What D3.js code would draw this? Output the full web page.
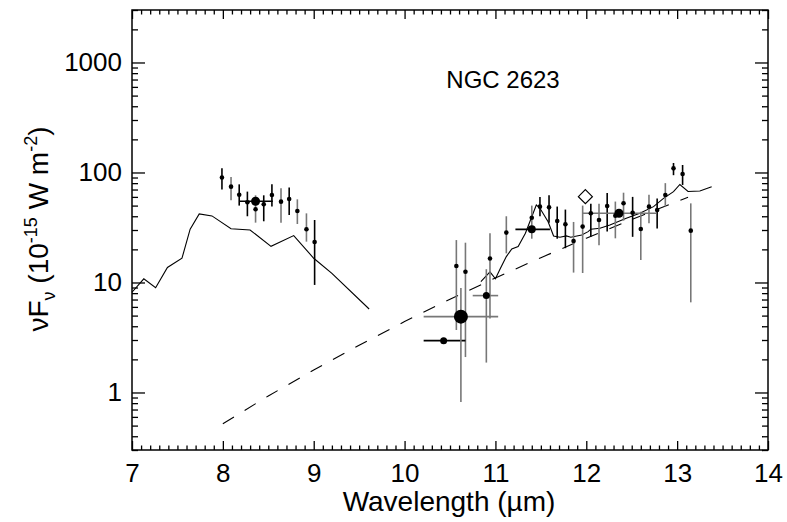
<!DOCTYPE html>
<html><head><meta charset="utf-8">
<script src="https://cdn.jsdelivr.net/npm/d3@7"></script>
<style>
body{margin:0;background:#fff;}
text{font-family:"Liberation Sans",Arial,Helvetica,sans-serif;fill:#000;}
</style></head>
<body><svg id="c" width="787" height="522"></svg>
<script>
// ---- data ----
const title = "NGC 2623";
const xTicks = [7, 8, 9, 10, 11, 12, 13, 14];
const yTicks = [1, 10, 100, 1000];
const yTickLabels = ["1", "10", "100", "1000"];

// model spectrum, short-wavelength piece [wavelength µm, flux]
const modelLeft = [[7.0,8.15],[7.13,10.8],[7.26,8.97],[7.39,13.7],[7.55,16.6],[7.64,30.5],[7.74,42],[7.88,40.3],
  [8.09,30.8],[8.30,30],[8.53,21.3],[8.78,26.7],[9.0,16.6],[9.2,12.1],[9.61,5.74]];
// model spectrum, long-wavelength piece
const modelRight = [[10.84,10.2],[10.94,12.5],[11.0,10.8],[11.05,13.2],[11.12,17.2],[11.18,20.2],[11.25,21.2],[11.33,28],
  [11.40,39.6],[11.45,50.7],[11.49,47.3],[11.58,35.7],[11.64,26.5],[11.71,25.8],[11.78,26.5],[11.83,25.8],[11.95,27],
  [12.02,29],[12.05,30.5],[12.15,31.1],[12.26,33.3],[12.44,38.4],[12.59,42.6],[12.74,48.9],[12.85,58.2],[12.96,66.9],
  [13.03,77.8],[13.12,67.2],[13.25,67.9],[13.38,74.3]];
// continuum (dashed)
const continuum = [[8.0,0.52],[8.5,0.93],[9.0,1.6],[9.5,2.69],[10.0,4.41],[10.5,7.04],[11.0,11.0],[11.5,16.8],
  [12.0,25.3],[12.5,37.4],[13.0,54.5],[13.12,59.5]];

// spectral points, set A [wavelength, flux, low, high]
const spectrumA = [[7.99,90,70,109],[8.18,62.8,50,78],[8.27,53.6,40,67],[8.45,51.4,36,62],[8.54,62.4,49,78],
  [8.73,57.4,41,73],[9.01,23.3,9.5,37],[11.49,48.9,40,60],[11.59,48.2,35,62],[11.68,36.2,25,49],[11.77,33.8,20.5,46],
  [12.05,42.6,26,52],[12.23,49.6,29,65],[12.51,43.1,26,60],[12.78,45.6,31,58],[12.96,109,94.5,122],[13.06,97,77,117]];
// spectral points, set B
const spectrumB = [[8.09,74.3,56,91],[8.36,46.3,35,62],[8.64,54.3,35,72],[8.82,44.7,34,57],[8.92,30.5,23.5,42.5],
  [10.57,14.1,3.7,24.3],[10.67,12.5,2.1,23],[10.94,16.5,4.7,28],[11.12,28.4,18.4,40],[11.40,38.8,25,50],
  [11.86,23.8,12.3,35.5],[11.96,32.2,12.2,50],[12.14,37,21.8,52],[12.32,40.5,25.2,54.4],[12.41,52.5,36.5,65.5],
  [12.60,30.6,16,44],[12.69,48.9,34.5,62.6],[12.87,62.4,49,80],[13.15,29.6,6.6,52.4]];

// photometry [wavelength, flux, wlLow, wlHigh, fluxLow, fluxHigh]
const photWave = [8.36, 10.43, 10.62, 10.90, 11.40, 12.36];
const photFlux = [54.7, 2.96, 4.89, 7.6, 30.4, 42.6];
const photWlLow = [8.18, 10.21, 10.21, 10.75, 11.22, 11.96];
const photWlHigh = [8.55, 10.67, 11.03, 11.03, 11.60, 12.77];
const photFluxLow = [null, null, 0.82, 1.87, null, null];
const photFluxHigh = [null, null, 8.9, 13.2, null, null];
// single open-diamond point
const diamond = [[11.99, 60.3]];

// ---- styles (separate from data) ----
const photRadius = [4.5, 3.5, 7, 3.5, 4, 4.5];
const photColor = ["#000", "#000", "#777", "#777", "#000", "#777"];
const GREY = "#777";

const svg = d3.select("#c");
const L = 132, R = 768, T = 10, B = 450;
const x = d3.scaleLinear().domain([7, 14]).range([L, R]);
const y = d3.scaleLog().domain([0.3, 3000]).range([B, T]);

// minor tick values
const xMinor = d3.range(70, 141).map(v => v / 10).filter(v => Math.abs(v - Math.round(v)) > 1e-6);
const yMinor = [];
[0.1, 1, 10, 100, 1000].forEach(d => { for (let k = 2; k <= 9; k++) { const v = d * k; if (v >= 0.3 && v <= 3000 && v !== 1000) yMinor.push(v); } });

const gAx = svg.append("g");
function styleAxis(g) { g.select(".domain").remove(); g.selectAll("line").attr("stroke", "#000").attr("stroke-width", 1.3); }
// bottom
gAx.append("g").attr("transform", `translate(0,${B})`)
  .call(d3.axisBottom(x).tickValues(xTicks).tickSize(-9).tickPadding(14).tickFormat(d3.format("d")))
  .call(styleAxis).call(g => g.selectAll("text").attr("font-size", 26).attr("font-family", "Liberation Sans, Arial, sans-serif"));
gAx.append("g").attr("transform", `translate(0,${B})`)
  .call(d3.axisBottom(x).tickValues(xMinor).tickSize(-4.5).tickFormat("")).call(styleAxis);
// top
gAx.append("g").attr("transform", `translate(0,${T})`)
  .call(d3.axisTop(x).tickValues(xTicks).tickSize(-9).tickFormat("")).call(styleAxis);
gAx.append("g").attr("transform", `translate(0,${T})`)
  .call(d3.axisTop(x).tickValues(xMinor).tickSize(-4.5).tickFormat("")).call(styleAxis);
// left
gAx.append("g").attr("transform", `translate(${L},0)`)
  .call(d3.axisLeft(y).tickValues(yTicks).tickSize(-13).tickPadding(10).tickFormat((d, i) => yTickLabels[i]))
  .call(styleAxis).call(g => g.selectAll("text").attr("font-size", 26).attr("font-family", "Liberation Sans, Arial, sans-serif"));
gAx.append("g").attr("transform", `translate(${L},0)`)
  .call(d3.axisLeft(y).tickValues(yMinor).tickSize(-6).tickFormat("")).call(styleAxis);
// right
gAx.append("g").attr("transform", `translate(${R},0)`)
  .call(d3.axisRight(y).tickValues(yTicks).tickSize(-13).tickFormat("")).call(styleAxis);
gAx.append("g").attr("transform", `translate(${R},0)`)
  .call(d3.axisRight(y).tickValues(yMinor).tickSize(-6).tickFormat("")).call(styleAxis);
// frame
svg.append("rect").attr("x", L).attr("y", T).attr("width", R - L).attr("height", B - T)
  .attr("fill", "none").attr("stroke", "#000").attr("stroke-width", 1.5);

const line = d3.line().x(d => x(d[0])).y(d => y(d[1]));
const gData = svg.append("g");

// continuum
gData.append("path").datum(continuum).attr("d", line).attr("fill", "none")
  .attr("stroke", "#000").attr("stroke-width", 1.1).attr("stroke-dasharray", "13,12.5");
// model
[modelLeft, modelRight].forEach(m => gData.append("path").datum(m).attr("d", line)
  .attr("fill", "none").attr("stroke", "#000").attr("stroke-width", 1.1));

// spectral points
function drawSpec(arr, col) {
  const g = gData.append("g");
  g.selectAll("line").data(arr).join("line")
    .attr("x1", d => x(d[0])).attr("x2", d => x(d[0]))
    .attr("y1", d => y(d[2])).attr("y2", d => y(d[3]))
    .attr("stroke", col).attr("stroke-width", 1.6);
  return g;
}
drawSpec(spectrumA, "#000");
drawSpec(spectrumB, GREY);

// photometry error bars
const phot = photWave.map((w, i) => ({ w, f: photFlux[i], wl: photWlLow[i], wh: photWlHigh[i], fl: photFluxLow[i], fh: photFluxHigh[i], i }));
const gP = gData.append("g");
gP.selectAll("line.h").data(phot).join("line").attr("class", "h")
  .attr("x1", d => x(d.wl)).attr("x2", d => x(d.wh)).attr("y1", d => y(d.f)).attr("y2", d => y(d.f))
  .attr("stroke", d => photColor[d.i]).attr("stroke-width", 1.6);
gP.selectAll("line.v").data(phot.filter(d => d.fl !== null)).join("line").attr("class", "v")
  .attr("x1", d => x(d.w)).attr("x2", d => x(d.w)).attr("y1", d => y(d.fl)).attr("y2", d => y(d.fh))
  .attr("stroke", d => photColor[d.i]).attr("stroke-width", 1.6);

// dots
gData.append("g").selectAll("circle").data(spectrumA.concat(spectrumB)).join("circle")
  .attr("cx", d => x(d[0])).attr("cy", d => y(d[1])).attr("r", 2.3).attr("fill", "#000");
gP.selectAll("circle").data(phot).join("circle")
  .attr("cx", d => x(d.w)).attr("cy", d => y(d.f)).attr("r", d => photRadius[d.i]).attr("fill", "#000");

// diamond
gData.append("g").selectAll("path").data(diamond).join("path")
  .attr("d", d => { const cx = x(d[0]), cy = y(d[1]), s = 7; return `M${cx},${cy - s}L${cx + s},${cy}L${cx},${cy + s}L${cx - s},${cy}Z`; })
  .attr("fill", "#fff").attr("stroke", "#000").attr("stroke-width", 1.2);

// title
svg.append("text").attr("x", 503).attr("y", 88).attr("text-anchor", "middle").attr("font-size", 24).text(title);
// x label
svg.append("text").attr("x", 449).attr("y", 511).attr("text-anchor", "middle").attr("font-size", 28).text("Wavelength (\u00b5m)");
// y label
const yl = svg.append("text").attr("transform", "translate(48,229) rotate(-90)").attr("text-anchor", "middle").attr("font-size", 28);
yl.append("tspan").text("\u03bdF");
yl.append("tspan").attr("font-size", 18).attr("dy", 7).text("\u03bd");
yl.append("tspan").attr("dy", -7).text(" (10");
yl.append("tspan").attr("font-size", 18).attr("dy", -11).text("-15");
yl.append("tspan").attr("dy", 11).text(" W m");
yl.append("tspan").attr("font-size", 18).attr("dy", -11).text("-2");
yl.append("tspan").attr("dy", 11).text(")");
</script></body></html>
